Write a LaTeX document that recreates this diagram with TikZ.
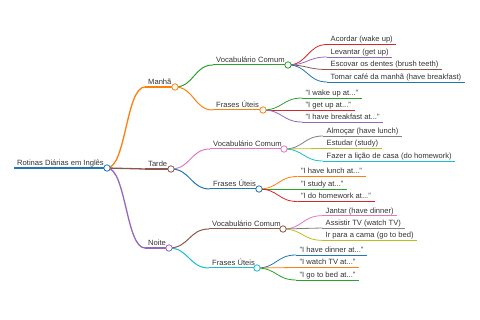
\documentclass[tikz,border=0pt]{standalone}
\usepackage{fontspec}
\setmainfont{Liberation Sans}
\usetikzlibrary{calc}
\definecolor{c0}{HTML}{1F77B4}
\definecolor{c1}{HTML}{FF7F0E}
\definecolor{c2}{HTML}{2CA02C}
\definecolor{c3}{HTML}{D62728}
\definecolor{c4}{HTML}{9467BD}
\definecolor{c5}{HTML}{8C564B}
\definecolor{c6}{HTML}{E377C2}
\definecolor{c7}{HTML}{7F7F7F}
\definecolor{c8}{HTML}{BCBD22}
\definecolor{c9}{HTML}{17BECF}
\definecolor{txt}{HTML}{333333}
\newcommand\mmlink[3]{\draw[#1] let \p1=(#2), \p2=(#3) in (\p1) .. controls ({(\x1+\x2)/2},\y1) and ({(\x1+\x2)/2},\y2) .. (\p2);}
\tikzset{
  lbl/.style={font=\fontsize{7.6}{9}\selectfont, text=txt, inner xsep=3pt, inner ysep=0pt, anchor=base west},
  leaf/.style={lbl, inner xsep=3.5pt},
  dot/.style={circle, fill=white, minimum size=6.4pt, inner sep=0pt, line width=0.8pt},
  w0/.style={line width=1.8pt},
  w1/.style={line width=1.3pt},
  w2/.style={line width=1.0pt},
  w3/.style={line width=0.8pt}
}
\begin{document}
\begin{tikzpicture}[x=1pt,y=-1pt]
\useasboundingbox (0,0) rectangle (480,320);
% ---------- root
\coordinate (r0) at (14,168);
\node[lbl] (rt) at (14,165.5) {Rotinas Diárias em Inglês};
\coordinate (rc0) at (107,168);
\draw[w0,c0] (r0) -- (rc0);
% ---------- depth 1
\coordinate (m0) at (145,87);  \coordinate (mc0) at (175,87);
\coordinate (t0) at (145,169); \coordinate (tc0) at (171,169);
\coordinate (n0) at (145,248); \coordinate (nc0) at (169,248);
\node[lbl] (mt) at (145,84.5) {Manhã};
\node[lbl] (tt) at (145,166.5) {Tarde};
\node[lbl] (nt) at (145,245.5) {Noite};
\mmlink{w1,c1}{rc0}{m0} \draw[w1,c1] (m0) -- (mc0);
\mmlink{w1,c5}{rc0}{t0} \draw[w1,c5] (t0) -- (tc0);
\mmlink{w1,c4}{rc0}{n0} \draw[w1,c4] (n0) -- (nc0);
% ---------- depth 2
\coordinate (mv0) at (213,65);  \coordinate (mvc0) at (288,65);
\coordinate (mf0) at (213,110); \coordinate (mfc0) at (263,110);
\coordinate (tv0) at (210,149); \coordinate (tvc0) at (284,149);
\coordinate (tf0) at (210,189); \coordinate (tfc0) at (259,189);
\coordinate (nv0) at (209,229); \coordinate (nvc0) at (283,229);
\coordinate (nf0) at (209,268); \coordinate (nfc0) at (257,268);
\node[lbl] (mvt) at (213,62.5) {Vocabulário Comum};
\node[lbl] (mft) at (213,107.5) {Frases Úteis};
\node[lbl] (tvt) at (210,146.5) {Vocabulário Comum};
\node[lbl] (tft) at (210,186.5) {Frases Úteis};
\node[lbl] (nvt) at (209,226.5) {Vocabulário Comum};
\node[lbl] (nft) at (209,265.5) {Frases Úteis};
\mmlink{w2,c2}{mc0}{mv0} \draw[w2,c2] (mv0) -- (mvc0);
\mmlink{w2,c1}{mc0}{mf0} \draw[w2,c1] (mf0) -- (mfc0);
\mmlink{w2,c6}{tc0}{tv0} \draw[w2,c6] (tv0) -- (tvc0);
\mmlink{w2,c0}{tc0}{tf0} \draw[w2,c0] (tf0) -- (tfc0);
\mmlink{w2,c5}{nc0}{nv0} \draw[w2,c5] (nv0) -- (nvc0);
\mmlink{w2,c9}{nc0}{nf0} \draw[w2,c9] (nf0) -- (nfc0);
% ---------- leaves
% Manhã / Vocabulário
\coordinate (a1) at (327,44.5);
\coordinate (a2) at (327,57);
\coordinate (a3) at (327,69.5);
\coordinate (a4) at (327,82);
\node[leaf] (a1t) at (327,42) {Acordar (wake up)};
\node[leaf] (a2t) at (327,54.5) {Levantar (get up)};
\node[leaf] (a3t) at (327,67) {Escovar os dentes (brush teeth)};
\node[leaf] (a4t) at (327,79.5) {Tomar café da manhã (have breakfast)};
\mmlink{w3,c3}{mvc0}{a1} \draw[w3,c3] (a1) -- (a1 -| a1t.east);
\mmlink{w3,c4}{mvc0}{a2} \draw[w3,c4] (a2) -- (a2 -| a2t.east);
\mmlink{w3,c5}{mvc0}{a3} \draw[w3,c5] (a3) -- (a3 -| a3t.east);
\mmlink{w3,c0}{mvc0}{a4} \draw[w3,c0] (a4) -- (a4 -| a4t.east);
% Manhã / Frases
\coordinate (b1) at (302,98);
\coordinate (b2) at (302,110);
\coordinate (b3) at (302,122);
\node[leaf] (b1t) at (302,95.5) {"I wake up at..."};
\node[leaf] (b2t) at (302,107.5) {"I get up at..."};
\node[leaf] (b3t) at (302,119.5) {"I have breakfast at..."};
\mmlink{w3,c2}{mfc0}{b1} \draw[w3,c2] (b1) -- (b1 -| b1t.east);
\mmlink{w3,c3}{mfc0}{b2} \draw[w3,c3] (b2) -- (b2 -| b2t.east);
\mmlink{w3,c4}{mfc0}{b3} \draw[w3,c4] (b3) -- (b3 -| b3t.east);
% Tarde / Vocabulário
\coordinate (d1) at (323,136);
\coordinate (d2) at (323,148.5);
\coordinate (d3) at (323,161);
\node[leaf] (d1t) at (323,133.5) {Almoçar (have lunch)};
\node[leaf] (d2t) at (323,146) {Estudar (study)};
\node[leaf] (d3t) at (323,158.5) {Fazer a lição de casa (do homework)};
\mmlink{w3,c7}{tvc0}{d1} \draw[w3,c7] (d1) -- (d1 -| d1t.east);
\mmlink{w3,c8}{tvc0}{d2} \draw[w3,c8] (d2) -- (d2 -| d2t.east);
\mmlink{w3,c9}{tvc0}{d3} \draw[w3,c9] (d3) -- (d3 -| d3t.east);
% Tarde / Frases
\coordinate (e1) at (297.5,176.5);
\coordinate (e2) at (297.5,189);
\coordinate (e3) at (297.5,201.5);
\node[leaf] (e1t) at (297.5,174) {"I have lunch at..."};
\node[leaf] (e2t) at (297.5,186.5) {"I study at..."};
\node[leaf] (e3t) at (297.5,199) {"I do homework at..."};
\mmlink{w3,c1}{tfc0}{e1} \draw[w3,c1] (e1) -- (e1 -| e1t.east);
\mmlink{w3,c2}{tfc0}{e2} \draw[w3,c2] (e2) -- (e2 -| e2t.east);
\mmlink{w3,c3}{tfc0}{e3} \draw[w3,c3] (e3) -- (e3 -| e3t.east);
% Noite / Vocabulário
\coordinate (f1) at (322,215.7);
\coordinate (f2) at (322,228);
\coordinate (f3) at (322,240.3);
\node[leaf] (f1t) at (322,213.2) {Jantar (have dinner)};
\node[leaf] (f2t) at (322,225.5) {Assistir TV (watch TV)};
\node[leaf] (f3t) at (322,237.8) {Ir para a cama (go to bed)};
\mmlink{w3,c6}{nvc0}{f1} \draw[w3,c6] (f1) -- (f1 -| f1t.east);
\mmlink{w3,c7}{nvc0}{f2} \draw[w3,c7] (f2) -- (f2 -| f2t.east);
\mmlink{w3,c8}{nvc0}{f3} \draw[w3,c8] (f3) -- (f3 -| f3t.east);
% Noite / Frases
\coordinate (g1) at (296,255);
\coordinate (g2) at (296,267.5);
\coordinate (g3) at (296,280);
\node[leaf] (g1t) at (296,252.5) {"I have dinner at..."};
\node[leaf] (g2t) at (296,265) {"I watch TV at..."};
\node[leaf] (g3t) at (296,277.5) {"I go to bed at..."};
\mmlink{w3,c0}{nfc0}{g1} \draw[w3,c0] (g1) -- (g1 -| g1t.east);
\mmlink{w3,c1}{nfc0}{g2} \draw[w3,c1] (g2) -- (g2 -| g2t.east);
\mmlink{w3,c2}{nfc0}{g3} \draw[w3,c2] (g3) -- (g3 -| g3t.east);
% ---------- circles on top
\node[dot,draw=c0] (rc) at (rc0) {};
\node[dot,draw=c1] (mc) at (mc0) {};
\node[dot,draw=c5] (tc) at (tc0) {};
\node[dot,draw=c4] (nc) at (nc0) {};
\node[dot,draw=c2] (mvc) at (mvc0) {};
\node[dot,draw=c1] (mfc) at (mfc0) {};
\node[dot,draw=c6] (tvc) at (tvc0) {};
\node[dot,draw=c0] (tfc) at (tfc0) {};
\node[dot,draw=c5] (nvc) at (nvc0) {};
\node[dot,draw=c9] (nfc) at (nfc0) {};
\end{tikzpicture}
\end{document}
